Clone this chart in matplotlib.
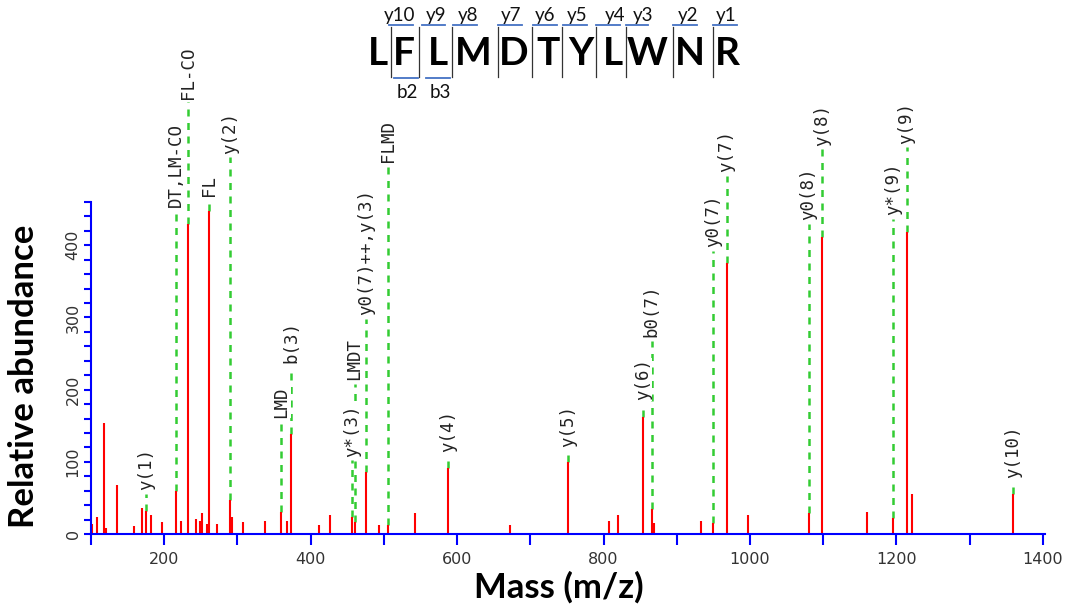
import numpy as np, matplotlib
matplotlib.use("Agg")
import matplotlib.pyplot as plt
from matplotlib.ticker import MultipleLocator
from matplotlib import font_manager

W,H=1067,608
# ---- spectrum peaks (m/z, relative abundance) ----
peak_mz=[102,108,118,120,136,159,169,175,182,197,216,223,233,243,249,251,259,261,272,290,292,307,338,
         360,368,373,412,427,457,460,476,493,506,542,588,672,752,808,820,854,866,869,933,950,968,997,
         1080,1099,1160,1196,1214,1221,1359]
peak_int=[14,24,154,8,68,11,36,32,26,17,60,18,430,21,18,29,14,447,14,47,24,17,18,
          31,18,138,13,26,23,16,86,12,12,29,91,12,100,18,26,162,34,15,18,15,375,26,
          29,411,31,22,419,55,55]
# ---- annotated fragments ----
ann_mz=[175,216,233,261,290,360,373,457,460,476,506,588,752,854,866,950,968,1080,1099,1196,1214,1359]
ann_text=["y(1)","DT,LM-CO","FL-CO","FL","y(2)","LMD","b(3)","y*(3)","LMDT","y0(7)++,y(3)","FLMD","y(4)",
          "y(5)","y(6)","b0(7)","y0(7)","y(7)","y0(8)","y(8)","y*(9)","y(9)","y(10)"]
ann_level=[61,453,603,469,527,161,237,107,213,303,515,113,120,185,273,397,501,435,538,442,541,78]
# ---- peptide sequence header ----
seq=list("LFLMDTYLWNR")
y_ions=["y10","y9","y8","y7","y6","y5","y4","y3","y2","y1"]
b_ions=["b2","b3"]

RED="#FF0000"; GRN="#33CC33"; BLU="#0000FF"; SEQB="#4472C4"
names={f.name for f in font_manager.fontManager.ttflist}
if "Liberation Sans Narrow" in names: HF,HS="Liberation Sans Narrow",32
else: HF,HS="Lato",28
fig=plt.figure(figsize=(W/100,H/100),dpi=100)
def fx(px): return px/W
def fy(py): return 1-py/H

ax=fig.add_axes([fx(91),fy(534),(1045-91)/W,(534-202)/H])
ax.set_xlim(100,1403); ax.set_ylim(0,460)
ax.vlines(peak_mz,0,peak_int,color=RED,lw=1.5,zorder=2)
pk=dict(zip(peak_mz,peak_int))
for m,t,lv in zip(ann_mz,ann_text,ann_level):
    ax.plot([m,m],[pk.get(m,0),lv-5],color=GRN,lw=1.8,ls=(0,(2.8,2.6)),clip_on=False,zorder=1)
    ax.text(m,lv,t,rotation=90,ha="center",va="bottom",fontsize=12.5,family="DejaVu Sans Mono",color="#222",
            clip_on=False,zorder=3,bbox=dict(fc="white",ec="none",pad=0.3))
for s in ["top","right"]: ax.spines[s].set_visible(False)
for s in ["left","bottom"]: ax.spines[s].set_color(BLU); ax.spines[s].set_linewidth(1.5)
ax.xaxis.set_major_locator(MultipleLocator(200)); ax.xaxis.set_minor_locator(MultipleLocator(100))
ax.yaxis.set_major_locator(MultipleLocator(100)); ax.yaxis.set_minor_locator(MultipleLocator(20))
ax.tick_params(axis="x",which="both",length=8,width=1.5,color=BLU,labelsize=11.5,labelcolor="#333",pad=5)
ax.tick_params(axis="y",which="both",length=5,width=1.5,color=BLU,labelsize=11.5,labelcolor="#333",pad=2.5)
ax.set_yticks([0,100,200,300,400])
for lb in ax.get_yticklabels(): lb.set_rotation(90); lb.set_va("center")
ax.patch.set_alpha(0)

fig.text(fx(559),fy(587),"Mass (m/z)",ha="center",va="center",fontsize=25,fontweight="bold",family="Lato")
fig.text(fx(24),fy(376),"Relative abundance",ha="center",va="center",rotation=90,fontsize=25,fontweight="bold",family="Lato")

# header: residues, cleavage separators, ion brackets
let_x=[378,404,438,473,514,548,581,613,647,690,727]
sep_x=[391,419,452,498,532,562,596,626,673,713]
yl_x=[400,436,468,511,545,577,615,643,688,726]
ybr=[(389,413),(422,445),(453,477),(498,522),(533,557),(563,587),(596,620),(626,648),(673,697),(713,737)]
bbr=[(394,418),(426,450)]; bl_x=[407,440]
for x,c in zip(let_x,seq):
    fig.text(fx(x),fy(65),c,ha="center",va="baseline",fontsize=HS,fontweight="bold",family=HF)
for x in sep_x:
    fig.add_artist(plt.Line2D([fx(x),fx(x)],[fy(27),fy(77)],color="#333",lw=0.9))
for (a,b),lab,x in zip(ybr,y_ions,yl_x):
    fig.add_artist(plt.Line2D([fx(a),fx(b)],[fy(25),fy(25)],color=SEQB,lw=1.3))
    fig.text(fx(x),fy(15),lab,ha="center",va="center",fontsize=13.5,family="Lato",color="#111")
for (a,b),lab,x in zip(bbr,b_ions,bl_x):
    fig.add_artist(plt.Line2D([fx(a),fx(b)],[fy(78),fy(78)],color=SEQB,lw=1.3))
    fig.text(fx(x),fy(93),lab,ha="center",va="center",fontsize=13.5,family="Lato",color="#111")
fig.savefig("out.png",dpi=100)
